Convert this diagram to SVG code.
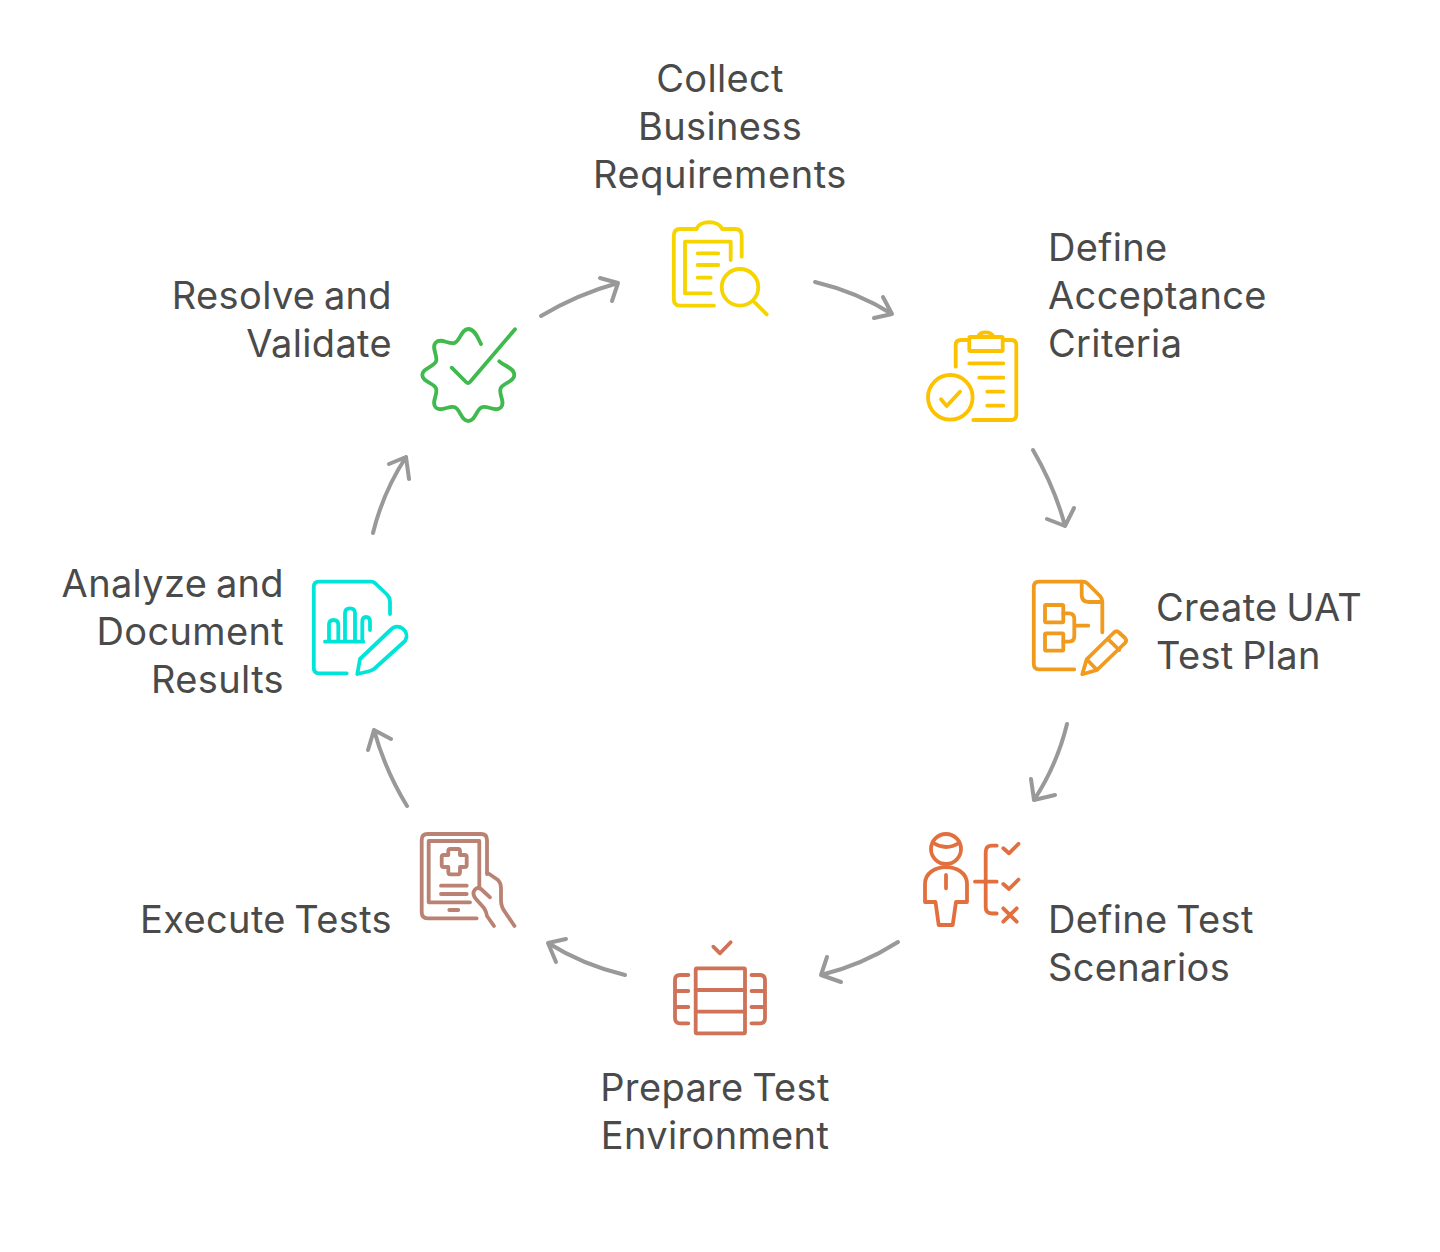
<svg xmlns="http://www.w3.org/2000/svg" width="1440" height="1252" viewBox="0 0 1440 1252">
<style>
text{font-family:Inter,"Liberation Sans",sans-serif;font-size:38px;letter-spacing:.35px;word-spacing:-2.5px;fill:#4a4a4a}
.r{letter-spacing:.6px}
.m{text-anchor:middle}.e{text-anchor:end}
.i{fill:none;stroke-width:3.8;stroke-linecap:round;stroke-linejoin:round}
.c{fill:none;stroke:#999;stroke-width:4;stroke-linecap:round;stroke-linejoin:round}
</style>
<rect width="1440" height="1252" fill="#fff"/>
<g id="connectors" class="c">
<path d="M815,282Q857,292 892,314M874,318L892,314L883,297"/>
<path d="M1033,450Q1055,488 1065,526M1047,519L1065,526L1074,508"/>
<path d="M1067,724Q1057,765 1034,800M1031,779L1034,800L1055,795"/>
<path d="M898,942Q862,965 821,975M827,957L821,975L841,982"/>
<path d="M625,975Q583,965 548,943M566,939L548,943L556,962"/>
<path d="M407,806Q385,770 374,730M368,750L374,730L391,739"/>
<path d="M373,533Q383,492 406,457M389,464L406,457L409,479"/>
<path d="M541,316Q578,294 618,283M600,278L618,283L612,301"/>
</g>
<g id="n1">
<text class="m" x="720" y="92">Collect</text><text class="m" x="720" y="140">Business</text><text class="m r" x="720" y="188">Requirements</text>
<g class="i" stroke="#f5d400">
<path d="M714,305.7H680Q673.8,305.7 673.8,299V236Q673.8,229 680,229H696.7C699,220 719,220 722,229H735Q741.7,229 741.7,236V256.7"/>
<path d="M710.7,293.3H685V241.7H730.7V260"/>
<path d="M697.7,253.3H718.3M697.7,265H718.3M697.7,277.7H710.7"/>
<circle cx="740" cy="287.3" r="18.3"/><path d="M755,302.7L766.7,314.3"/>
</g></g>
<g id="n2">
<text x="1048" y="261">Define</text><text x="1048" y="309">Acceptance</text><text x="1048" y="357">Criteria</text>
<g class="i" stroke="#fcc200">
<path d="M955.7,366.7V345Q955.7,340 961,340H969.3M1002.7,340H1011Q1016.3,340 1016.3,345V415Q1016.3,420 1011,420H973.3"/>
<rect x="969.3" y="337" width="33.4" height="14" rx="1"/>
<path d="M978.3,337C979,330.7 992,330.7 993.3,337"/>
<path d="M969.3,363.3H1003.3M979.3,377.7H1003.3M987.3,391.7H1003.3M987.3,405.7H1003.3"/>
<circle cx="950.3" cy="397.3" r="22.3"/><path d="M941,399.3L946.7,406L960,391.7"/>
</g></g>
<g id="n3">
<text x="1156" y="621">Create UAT</text><text x="1156" y="669">Test Plan</text>
<g class="i" stroke="#f09a1e">
<path d="M1074.3,669.3H1039Q1033.8,669.3 1033.8,664V587Q1033.8,581.7 1039,581.7H1083Q1086,581.7 1088,584L1100,596Q1102.3,598.5 1102.3,602V632.3"/>
<path d="M1081.7,581.7V595Q1081.7,602 1089,602H1102.3"/>
<rect x="1045" y="605" width="18.3" height="17.3" rx="1"/><rect x="1045" y="633.3" width="18.3" height="17.3" rx="1"/>
<path d="M1063.3,613.3H1069Q1074.3,613.3 1074.3,619V636Q1074.3,641.7 1069,641.7H1063.3M1074.3,625.7H1088.3"/>
<path d="M1082.3,674.3L1086.7,659.3L1114,632.5Q1116.7,630 1119,632.5L1125,638Q1127.3,640.5 1125,643L1097,670ZM1086.7,659.3L1097,670M1108.3,639.3L1119.3,650"/>
</g></g>
<g id="n4">
<text x="1048" y="933">Define Test</text><text x="1048" y="981">Scenarios</text>
<g class="i" stroke="#e2703f">
<circle cx="946" cy="849" r="15"/><path d="M933.5,843Q946,851 959,843"/>
<path d="M925,902V884C925,861.5 967,861.5 967,884V902H956L952.7,925H938.7L935.5,902Z"/>
<path d="M946,875V888.3M975,881.7H996.7"/>
<path d="M996.7,845.7H992Q985.7,845.7 985.7,852V907Q985.7,913.5 992,913.5H996.7"/>
<path d="M1003.3,848.3L1009,853.3L1018.5,843.8M1003.3,884L1009,889L1018.5,879.5M1003.3,908.3L1016.7,921.7M1016.7,908.3L1003.3,921.7"/>
</g></g>
<g id="n5">
<text class="m" x="715" y="1101">Prepare Test</text><text class="m" x="715" y="1149">Environment</text>
<g class="i" stroke="#cf7257">
<path d="M713.3,946.7L720,953.3L730.7,942.3"/>
<rect x="695.7" y="968.3" width="49.3" height="65" rx="1"/>
<path d="M695.7,990H745M695.7,1011.7H745"/>
<path d="M688.3,975H680Q675,975 675,980V1018Q675,1023.3 680,1023.3H688.3M675,991H688.3M675,1007H688.3"/>
<path d="M751.5,975H760Q765,975 765,980V1018Q765,1023.3 760,1023.3H751.5M765,991H751.5M765,1007H751.5"/>
</g></g>
<g id="n6">
<text class="e" x="392" y="933">Execute Tests</text>
<g class="i" stroke="#b98273">
<path d="M476.7,918.3H427.5Q421.7,918.3 421.7,912V840Q421.7,834 427.5,834H481Q487,834 487,840V874"/>
<path d="M470,902.3H428.7V841H479.3V886.7"/>
<path d="M448.3,855V851Q448.3,849 450.3,849H458Q460,849 460,851V855H464.7Q466.7,855 466.7,857V865Q466.7,867 464.7,867H460V872Q460,874.3 458,874.3H450.3Q448.3,874.3 448.3,872V867H443.7Q441.7,867 441.7,865V857Q441.7,855 443.7,855Z"/>
<path d="M441,885.7H466.7M441,894H466.7M449.3,910H458.3"/>
<path d="M488.5,873.5L498,880Q501,883 501,888V900Q501,907 505,912L514.5,926"/>
<path d="M490,897.3L481,889Q476,886 473.5,892Q473,896 476,899L484,908Q486.5,912 487,916L494,926"/>
</g></g>
<g id="n7">
<text class="e" x="284" y="597">Analyze and</text><text class="e" x="284" y="645">Document</text><text class="e" x="284" y="693">Results</text>
<g class="i" stroke="#00e5d8">
<path d="M346.7,673.3H319Q313.8,673.3 313.8,668V587Q313.8,581.7 319,581.7H371Q373.5,581.7 375.5,583.5L387.5,595Q390,598 390,602V614"/>
<path d="M325,641.7H363.3M329,641.7V625Q329,620 333.5,620Q338.3,620 338.3,625V641.7M345,641.7V613Q345,608.3 350,608.3Q355,608.3 355,613V641.7M362.3,641.7V622Q362.3,617 366,617Q370,617 370,622V630"/>
<path d="M357.3,674L360,659L391,629.5C398,622 411,631 405,641L374,669Q372,670.5 368,671.5Z"/>
</g></g>
<g id="n8">
<text class="e" x="392" y="309">Resolve and</text><text class="e" x="392" y="357">Validate</text>
<g class="i" stroke="#40b94e">
<path transform="translate(468.3 375)" d="M12.7,-31C10,-36 7,-46 0,-46C-7,-46 -7.9,-34.6 -13.4,-32.3C-18.9,-30 -27.6,-37.5 -32.5,-32.5C-37.5,-27.6 -30,-18.9 -32.3,-13.4C-34.6,-7.9 -46,-7 -46,0C-46,7 -34.6,7.9 -32.3,13.4C-30,18.9 -37.5,27.6 -32.5,32.5C-27.6,37.5 -18.9,30 -13.4,32.3C-7.9,34.6 -7,46 0,46C7,46 7.9,34.6 13.4,32.3C18.9,30 27.6,37.5 32.5,32.5C37.5,27.6 30,18.9 32.3,13.4C34.6,7.9 46,7 46,0C46,-7 36,-9 31,-13.7"/>
<path d="M451.7,367.7L466,382Q468,384 470,382L515,329.3"/>
</g></g>
</svg>
